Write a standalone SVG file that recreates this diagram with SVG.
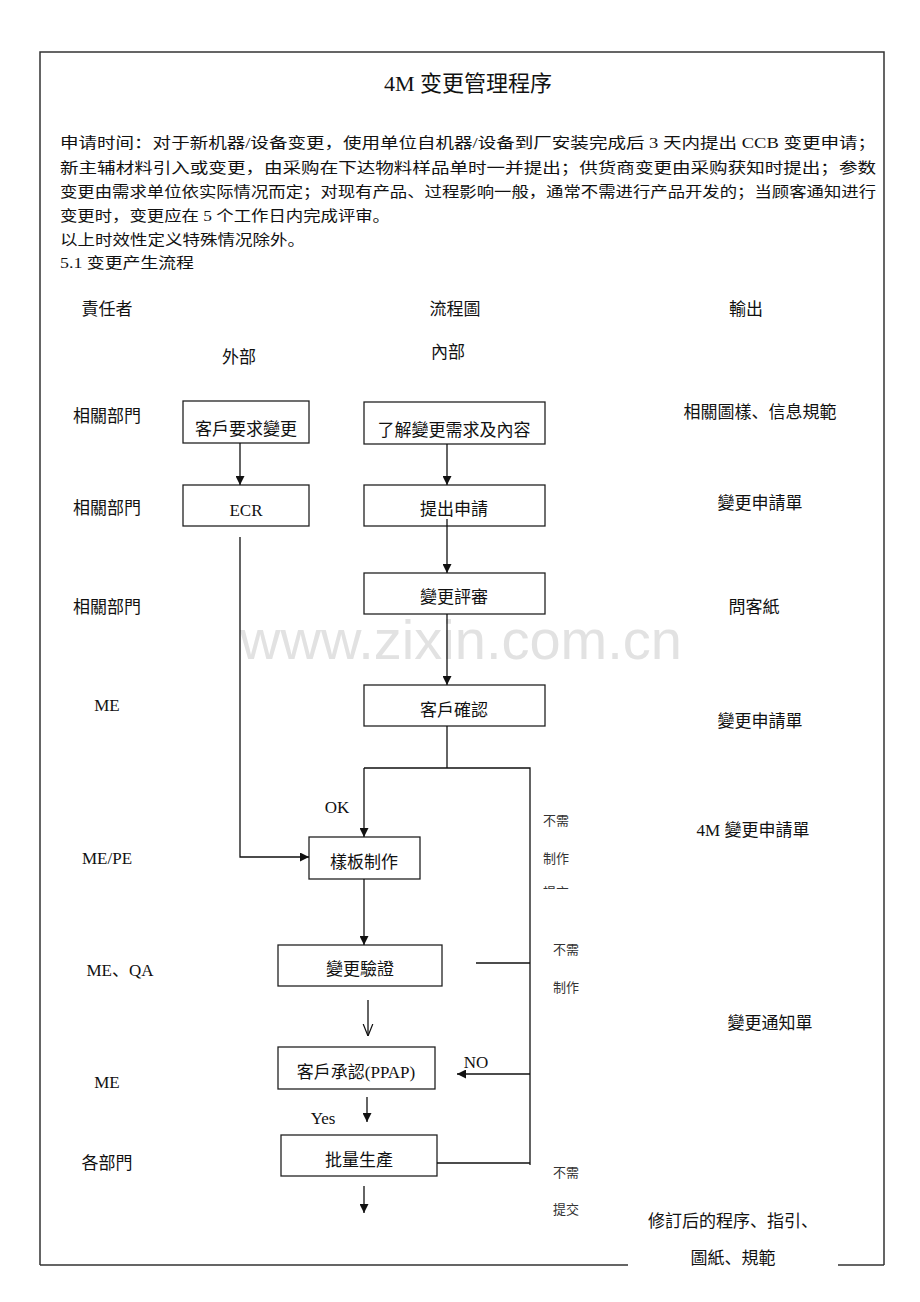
<svg xmlns="http://www.w3.org/2000/svg" width="920" height="1302" viewBox="0 0 920 1302">
<style>
text{font-family:"Liberation Serif","Noto Sans CJK SC",serif;fill:#111}
.t{font-size:15px}
.h{font-size:17px}
.b{font-size:17px;text-anchor:middle}
.c{text-anchor:middle}
.s{font-size:13px;fill:#333}
.box{fill:#fff;stroke:#222;stroke-width:1.3}
.ln{fill:none;stroke:#111;stroke-width:1.3}
.frame{fill:none;stroke:#333;stroke-width:1.5}
</style>
<defs>
<marker id="ah" viewBox="0 0 10 10" refX="10" refY="5" markerWidth="9" markerHeight="9" markerUnits="userSpaceOnUse" orient="auto">
<path d="M0,0 L10,5 L0,10 z" fill="#111"/>
</marker>
<marker id="ao" viewBox="0 0 10 10" refX="10" refY="5" markerWidth="12" markerHeight="12" markerUnits="userSpaceOnUse" orient="auto">
<path d="M0,1 L10,5 L0,9" fill="none" stroke="#111" stroke-width="1"/>
</marker>
<clipPath id="clipcut"><rect x="530" y="870" width="80" height="19"/></clipPath>
</defs>
<rect width="920" height="1302" fill="#fff"/>
<g id="frame">
<path class="frame" d="M40,1265 V52 H884 V1265"/>
<path class="frame" d="M40,1265 H628 M838,1265 H884"/>
</g>
<text x="461" y="659" style="font-family:'Liberation Sans',sans-serif;font-size:56px;fill:#e2e2e2" text-anchor="middle">www.zixin.com.cn</text>
<g id="header">
<text x="468" y="91" style="font-size:22px" text-anchor="middle">4M 变更管理程序</text>
<text class="t" x="60" y="148" textLength="816" lengthAdjust="spacingAndGlyphs">申请时间：对于新机器/设备变更，使用单位自机器/设备到厂安装完成后 3 天内提出 CCB 变更申请；</text>
<text class="t" x="60" y="173" textLength="816" lengthAdjust="spacingAndGlyphs">新主辅材料引入或变更，由采购在下达物料样品单时一并提出；供货商变更由采购获知时提出；参数</text>
<text class="t" x="60" y="197" textLength="816" lengthAdjust="spacingAndGlyphs">变更由需求单位依实际情况而定；对现有产品、过程影响一般，通常不需进行产品开发的；当顾客通知进行</text>
<text class="t" x="60" y="221" textLength="330" lengthAdjust="spacingAndGlyphs">变更时，变更应在 5 个工作日内完成评审。</text>
<text class="t" x="60" y="245" textLength="245" lengthAdjust="spacingAndGlyphs">以上时效性定义特殊情况除外。</text>
<text class="t" x="60" y="268" textLength="134" lengthAdjust="spacingAndGlyphs">5.1 变更产生流程</text>
</g>
<g id="columns">
<text class="h c" x="107" y="315">責任者</text>
<text class="h c" x="455" y="315">流程圖</text>
<text class="h c" x="746" y="315">輸出</text>
<text class="h c" x="239" y="363">外部</text>
<text class="h c" x="448" y="358">內部</text>
</g>
<g id="owners">
<text class="h c" x="107" y="422">相關部門</text>
<text class="h c" x="107" y="514">相關部門</text>
<text class="h c" x="107" y="613">相關部門</text>
<text class="h c" x="107" y="711">ME</text>
<text class="h c" x="107" y="864">ME/PE</text>
<text class="h c" x="120" y="976">ME、QA</text>
<text class="h c" x="107" y="1088">ME</text>
<text class="h c" x="107" y="1169">各部門</text>
</g>
<g id="outputs">
<text class="h c" x="760" y="418">相關圖樣、信息規範</text>
<text class="h c" x="760" y="509">變更申請單</text>
<text class="h c" x="754" y="613">問客紙</text>
<text class="h c" x="760" y="727">變更申請單</text>
<text class="h c" x="753" y="836">4M 變更申請單</text>
<text class="h c" x="770" y="1029">變更通知單</text>
<text class="h c" x="733" y="1227">修訂后的程序、指引、</text>
<text class="h c" x="733" y="1264">圖紙、規範</text>
</g>
<g id="n1"><rect class="box" x="183" y="401" width="126" height="42"/><text class="b" x="246" y="435">客戶要求變更</text></g>
<g id="n2"><rect class="box" x="364" y="402" width="181" height="42"/><text class="b" x="454" y="436">了解變更需求及內容</text></g>
<g id="n3"><rect class="box" x="183" y="485" width="126" height="41"/><text class="b" x="246" y="516">ECR</text></g>
<g id="n4"><rect class="box" x="364" y="485" width="181" height="41"/><text class="b" x="454" y="515">提出申請</text></g>
<g id="n5"><rect class="box" x="364" y="573" width="181" height="41"/><text class="b" x="454" y="603">變更評審</text></g>
<g id="n6"><rect class="box" x="364" y="685" width="181" height="41"/><text class="b" x="454" y="716">客戶確認</text></g>
<g id="n7"><rect class="box" x="309" y="837" width="111" height="42"/><text class="b" x="364" y="868">樣板制作</text></g>
<g id="n8"><rect class="box" x="278" y="945" width="164" height="41"/><text class="b" x="360" y="975">變更驗證</text></g>
<g id="n9"><rect class="box" x="278" y="1047" width="157" height="42"/><text class="b" x="356" y="1078">客戶承認(PPAP)</text></g>
<g id="n10"><rect class="box" x="281" y="1135" width="156" height="41"/><text class="b" x="359" y="1166">批量生產</text></g>
<g id="connectors">
<line class="ln" x1="240" y1="443" x2="240" y2="485" marker-end="url(#ah)"/>
<line class="ln" x1="447" y1="444" x2="447" y2="485" marker-end="url(#ah)"/>
<line class="ln" x1="447" y1="519" x2="447" y2="573" marker-end="url(#ah)"/>
<line class="ln" x1="447" y1="614" x2="447" y2="685" marker-end="url(#ah)"/>
<path class="ln" d="M447,726 V768"/>
<path class="ln" d="M364,768 H530 V1165"/>
<line class="ln" x1="364" y1="768" x2="364" y2="837" marker-end="url(#ah)"/>
<path class="ln" d="M240,537 V857 H309" marker-end="url(#ah)"/>
<line class="ln" x1="364" y1="879" x2="364" y2="945" marker-end="url(#ah)"/>
<line class="ln" x1="368" y1="1000" x2="368" y2="1036" marker-end="url(#ao)"/>
<line class="ln" x1="476" y1="963" x2="530" y2="963"/>
<line class="ln" x1="530" y1="1074" x2="457" y2="1074" marker-end="url(#ah)"/>
<line class="ln" x1="367" y1="1097" x2="367" y2="1122" marker-end="url(#ah)"/>
<line class="ln" x1="437" y1="1163" x2="530" y2="1163"/>
<line class="ln" x1="364" y1="1186" x2="364" y2="1213" marker-end="url(#ah)"/>
</g>
<g id="labels">
<text class="h c" x="337" y="813">OK</text>
<text class="h c" x="476" y="1068">NO</text>
<text class="h c" x="323" y="1124">Yes</text>
<text class="s" x="543" y="825">不需</text>
<text class="s" x="543" y="863">制作</text>
<text class="s" x="543" y="897" clip-path="url(#clipcut)">提交</text>
<text class="s" x="553" y="954">不需</text>
<text class="s" x="553" y="992">制作</text>
<text class="s" x="553" y="1177">不需</text>
<text class="s" x="553" y="1214">提交</text>
</g>
</svg>
